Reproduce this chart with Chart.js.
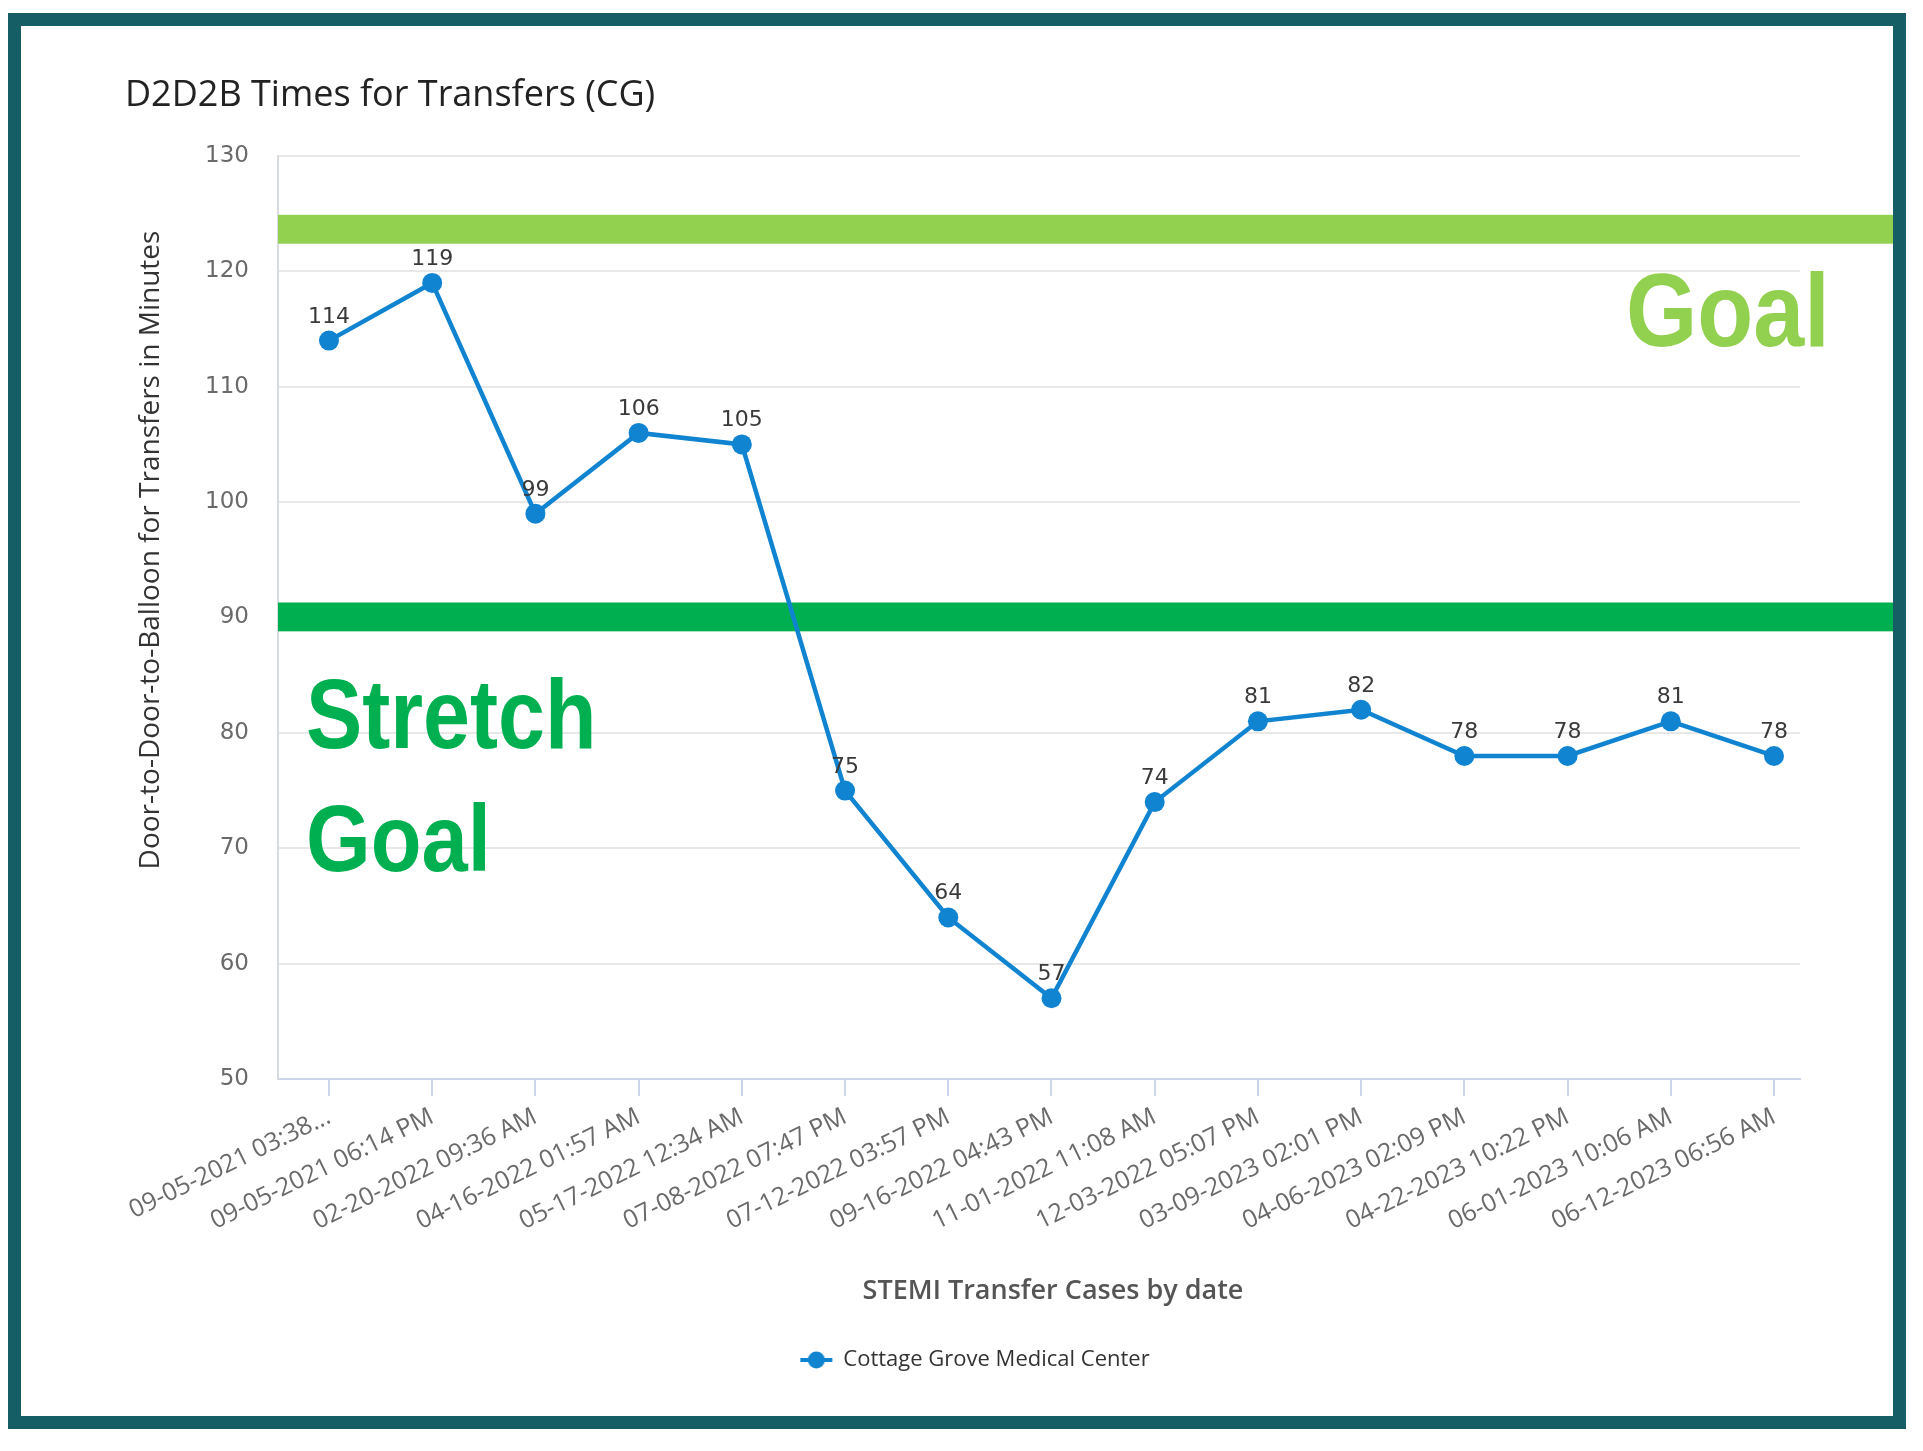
<!DOCTYPE html>
<html><head><meta charset="utf-8">
<script src="https://cdn.jsdelivr.net/npm/chart.js@4.4.1/dist/chart.umd.min.js"></script>
<style>
html,body{margin:0;padding:0;background:#fff;width:1923px;height:1451px;overflow:hidden;}
#frame{position:absolute;left:8px;top:13px;width:1898px;height:1416px;border:13px solid #165e66;box-sizing:border-box;}
#c{position:absolute;left:0;top:0;}
</style></head><body>
<div id="frame"></div>
<canvas id="c" width="1923" height="1451"></canvas>
<script>
// ---- data ----
const chartTitle = 'D2D2B Times for Transfers (CG)';
const yAxisTitle = 'Door-to-Door-to-Balloon for Transfers in Minutes';
const xAxisTitle = 'STEMI Transfer Cases by date';
const seriesName = 'Cottage Grove Medical Center';
const categories = [
  '09-05-2021 03:38...', '09-05-2021 06:14 PM', '02-20-2022 09:36 AM', '04-16-2022 01:57 AM',
  '05-17-2022 12:34 AM', '07-08-2022 07:47 PM', '07-12-2022 03:57 PM', '09-16-2022 04:43 PM',
  '11-01-2022 11:08 AM', '12-03-2022 05:07 PM', '03-09-2023 02:01 PM', '04-06-2023 02:09 PM',
  '04-22-2023 10:22 PM', '06-01-2023 10:06 AM', '06-12-2023 06:56 AM'
];
const values = [114, 119, 99, 106, 105, 75, 64, 57, 74, 81, 82, 78, 78, 81, 78];
const yTicks = [50, 60, 70, 80, 90, 100, 110, 120, 130];
const goalBand = [122.4, 124.9];
const stretchBand = [88.8, 91.3];
const goalLabel = 'Goal';
const stretchLabel = ['Stretch', 'Goal'];

// ---- styles ----
const BLUE = '#1084d0';
const LIGHT_GREEN = '#92d050';
const DARK_GREEN = '#00b050';

const legendIcon = (() => {
  const c = document.createElement('canvas');
  c.width = 34; c.height = 20;
  const g = c.getContext('2d');
  g.strokeStyle = BLUE; g.lineWidth = 4;
  g.beginPath(); g.moveTo(1, 10); g.lineTo(33, 10); g.stroke();
  g.fillStyle = BLUE; g.beginPath(); g.arc(17, 10, 8.5, 0, Math.PI * 2); g.fill();
  return c;
})();

const overlay = {
  id: 'overlay',
  beforeDatasetsDraw(chart) {
    const {ctx, chartArea, scales: {y}} = chart;
    const xr = 1893;
    const band = (b, color) => {
      const top = y.getPixelForValue(b[1]), bot = y.getPixelForValue(b[0]);
      ctx.fillStyle = color;
      ctx.fillRect(chartArea.left, top, xr - chartArea.left, bot - top);
    };
    ctx.save();
    band(goalBand, LIGHT_GREEN);
    band(stretchBand, DARK_GREEN);
    const txt = (s, x, yb, size, color, sx) => {
      ctx.save();
      ctx.translate(x, yb); ctx.scale(sx, 1);
      ctx.font = 'bold ' + size + 'px "Liberation Sans", Arial, sans-serif';
      ctx.fillStyle = color; ctx.textAlign = 'left'; ctx.textBaseline = 'alphabetic';
      ctx.fillText(s, 0, 0);
      ctx.restore();
    };
    txt(goalLabel, 1626, 346, 103, LIGHT_GREEN, 0.89);
    txt(stretchLabel[0], 306, 748, 98, DARK_GREEN, 0.86);
    txt(stretchLabel[1], 306, 871, 95, DARK_GREEN, 0.875);
    ctx.restore();
  },
  afterDatasetsDraw(chart) {
    const {ctx} = chart;
    const meta = chart.getDatasetMeta(0);
    ctx.save();
    ctx.font = '22px "DejaVu Sans", sans-serif';
    ctx.fillStyle = '#3a3a3a';
    ctx.textAlign = 'center'; ctx.textBaseline = 'alphabetic';
    meta.data.forEach((pt, i) => ctx.fillText(String(values[i]), pt.x, pt.y - 18));
    ctx.restore();
  },
  afterDraw(chart) {
    const {ctx} = chart;
    ctx.save();
    ctx.translate(151, 550);
    ctx.rotate(-Math.PI / 2);
    ctx.font = '28px "Open Sans", sans-serif';
    ctx.fillStyle = '#333';
    ctx.textAlign = 'center'; ctx.textBaseline = 'middle';
    ctx.fillText(yAxisTitle, 0, 0);
    ctx.restore();
    ctx.save();
    ctx.font = '600 27px "Open Sans", sans-serif';
    ctx.fillStyle = '#555';
    ctx.textAlign = 'center'; ctx.textBaseline = 'middle';
    ctx.fillText(xAxisTitle, 1053, 1291);
    ctx.restore();
  }
};

new Chart(document.getElementById('c'), {
  type: 'line',
  data: {
    datasets: [{
      label: seriesName,
      data: values.map((v, i) => ({x: i, y: v})),
      borderColor: BLUE,
      backgroundColor: BLUE,
      borderWidth: 4.5,
      pointRadius: 10,
      pointBorderWidth: 0,
      pointBackgroundColor: BLUE,
      tension: 0,
      clip: false
    }]
  },
  options: {
    responsive: false,
    animation: false,
    devicePixelRatio: 1,
    layout: {padding: {left: 125, right: 98, top: 74, bottom: 70}},
    plugins: {
      title: {
        display: true, text: chartTitle, align: 'start', color: '#222',
        font: {family: '"Open Sans", sans-serif', size: 36, weight: 'normal'},
        padding: {top: 0, bottom: 38.8}
      },
      legend: {
        position: 'bottom',
        labels: {
          usePointStyle: true, pointStyleWidth: 32, padding: 10, color: '#333',
          font: {family: '"Open Sans", sans-serif', size: 22},
          generateLabels(chart) {
            const items = Chart.defaults.plugins.legend.labels.generateLabels(chart);
            items.forEach(it => { it.pointStyle = legendIcon; });
            return items;
          }
        }
      },
      tooltip: {enabled: false}
    },
    scales: {
      x: {
        type: 'linear',
        min: -0.494, max: 14.252,
        afterBuildTicks: s => { s.ticks = categories.map((_, i) => ({value: i})); },
        afterFit: s => { s.height = 260; },
        ticks: {
          autoSkip: false, minRotation: 26, maxRotation: 26, padding: 6, color: '#6a6a6a',
          font: {family: '"Open Sans", sans-serif', size: 25},
          callback: v => categories[v]
        },
        grid: {drawOnChartArea: false, drawTicks: true, tickLength: 17, color: '#ccd6eb', lineWidth: 2},
        border: {display: true, color: '#ccd6eb', width: 2},
        title: {display: false}
      },
      y: {
        type: 'linear', min: 50, max: 130,
        afterBuildTicks: s => { s.ticks = yTicks.map(v => ({value: v})); },
        afterFit: s => { s.width = 153; },
        ticks: {padding: 29, color: '#6a6a6a', font: {family: '"DejaVu Sans", sans-serif', size: 23}},
        grid: {color: '#e8e8e8', lineWidth: 2, drawTicks: false},
        border: {display: true, color: '#d8dbe0', width: 2}
      },
      y2: {
        type: 'linear', position: 'right', display: true,
        afterFit: s => { s.width = 25; },
        ticks: {display: false},
        grid: {display: false, drawTicks: false},
        border: {display: false}
      }
    }
  },
  plugins: [overlay]
});
</script>
</body></html>
